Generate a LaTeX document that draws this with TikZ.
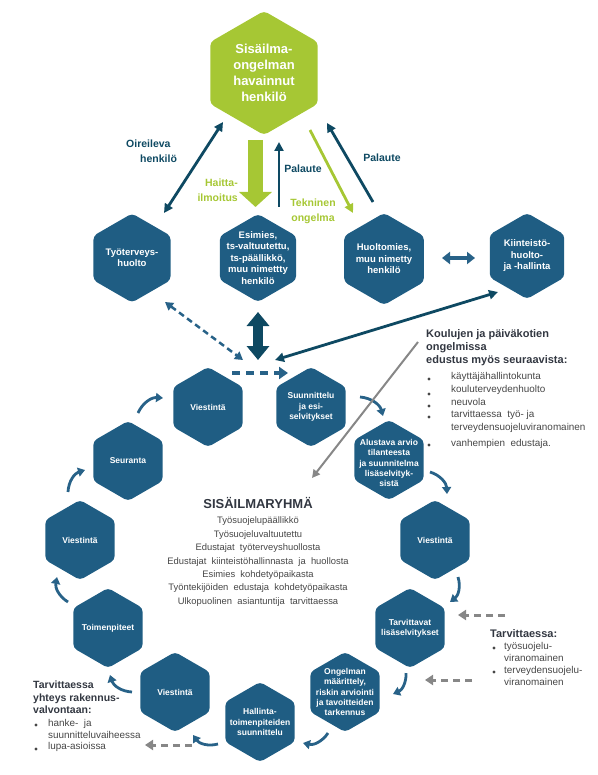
\documentclass[tikz,border=0pt]{standalone}
\usepackage{fontspec}
\setmainfont{Liberation Sans}
\usetikzlibrary{arrows.meta,shapes.geometric,calc}
\definecolor{hexblue}{RGB}{31,93,131}
\definecolor{lgreen}{RGB}{166,199,52}
\definecolor{dteal}{RGB}{14,73,98}
\definecolor{mblue}{RGB}{40,98,136}
\definecolor{agray}{RGB}{135,135,135}
\definecolor{tgray}{RGB}{70,70,70}
\definecolor{hgray}{RGB}{50,55,65}
\begin{document}
\begin{tikzpicture}[x=1pt,y=-1pt,
  hexa/.style={regular polygon, regular polygon sides=6, shape border rotate=30, fill=hexblue, rounded corners=4pt, inner sep=0pt, minimum size=#1},
  htext/.style={text=white, font=\bfseries\fontsize{8.5}{10.3}\selectfont, align=center, inner sep=0pt},
  ttext/.style={text=white, font=\bfseries\fontsize{9.5}{11.5}\selectfont, align=center, inner sep=0pt},
  lab/.style={font=\bfseries\fontsize{10.5}{15}\selectfont, inner sep=0pt},
  darr/.style={draw=dteal, line width=2.8pt, -{Triangle[length=9pt,width=9pt]}},
  dboth/.style={draw=dteal, line width=2.8pt, {Triangle[length=9pt,width=9pt]}-{Triangle[length=9pt,width=9pt]}},
  carr/.style={draw=mblue, line width=2.8pt, -{Triangle[length=7pt,width=9pt]}},
  garr/.style={draw=agray, line width=3pt, dash pattern=on 7pt off 5pt, -{Triangle[length=8pt,width=10pt]}},
  head/.style={font=\bfseries\fontsize{11}{13}\selectfont, text=hgray, align=left, inner sep=0pt},
  item/.style={font=\fontsize{9.9}{12}\selectfont, text=tgray, align=left, inner sep=0pt, anchor=west},
  bul/.style={circle, fill=tgray, minimum size=3.2pt, inner sep=0pt}
]
\useasboundingbox (0,0) rectangle (597,775);

% top hexagon
\node[hexa=124, fill=lgreen] (obs) at (264,73) {};
\node[text=white, font=\bfseries\fontsize{13}{16}\selectfont, align=center, inner sep=0pt] at (obs) {Sisäilma-\\ongelman\\havainnut\\henkilö};

% top row
\node[hexa=89] (tyo) at (132,258) {};
\node[ttext] at (tyo) {Työterveys-\\huolto};
\node[hexa=88] (esi) at (258,258) {};
\node[ttext] at (esi) {Esimies,\\ts-valtuutettu,\\ts-päällikkö,\\muu nimettty\\henkilö};
\node[hexa=92] (huo) at (384,259) {};
\node[ttext] at (huo) {Huoltomies,\\muu nimetty\\henkilö};
\node[hexa=86] (kii) at (527,256) {};
\node[ttext] at (kii) {Kiinteistö-\\huolto-\\ja -hallinta};

% cycle
\node[hexa=80] (v1) at (208,407) {};
\node[htext] at (v1) {Viestintä};
\node[hexa=80] (suu) at (311,407) {};
\node[htext] at (suu) {Suunnittelu\\ja esi-\\selvitykset};
\node[hexa=80] (alu) at (389,460) {};
\node[htext] at ($(alu)+(0,3)$) {Alustava arvio\\tilanteesta\\ja suunnitelma\\lisäselvityk-\\sistä};
\node[hexa=80] (v2) at (435,540) {};
\node[htext] at (v2) {Viestintä};
\node[hexa=80] (tar) at (410,628) {};
\node[htext] at (tar) {Tarvittavat\\lisäselvitykset};
\node[hexa=80] (ong) at (345,692) {};
\node[htext] at (ong) {Ongelman\\määrittely,\\riskin arviointi\\ja tavoitteiden\\tarkennus};
\node[hexa=80] (hal) at (260,722) {};
\node[htext] at (hal) {Hallinta-\\toimenpiteiden\\suunnittelu};
\node[hexa=80] (v3) at (175,692) {};
\node[htext] at (v3) {Viestintä};
\node[hexa=80] (toi) at (108,628) {};
\node[htext] at (toi) {Toimenpiteet};
\node[hexa=80] (v4) at (80,540) {};
\node[htext] at (v4) {Viestintä};
\node[hexa=80] (seu) at (128,461) {};
\node[htext] at (seu) {Seuranta};

\coordinate (hub) at (258,366);

% top arrows
\draw[dboth] ($(tyo)+(32,-45)$) -- ($(obs)+(-41,49)$);
\draw[draw=lgreen, line width=15pt, -{Triangle[length=15pt,width=32pt]}] ($(obs)+(-8.5,67)$) -- ($(esi)+(-2.5,-51)$);
\draw[darr] ($(esi)+(21,-51)$) -- ($(obs)+(15,69)$);
\draw[draw=lgreen, line width=2.8pt, -{Triangle[length=9pt,width=9pt]}] ($(obs)+(46,57)$) -- ($(huo)+(-31,-46)$);
\draw[darr] ($(huo)+(-11,-57)$) -- ($(obs)+(63,50)$);
\draw[draw=mblue, line width=4pt, {Triangle[length=8pt,width=12pt]}-{Triangle[length=8pt,width=12pt]}] ($(huo)+(58,-1)$) -- ($(kii)+(-52,2)$);

% labels
\node[lab, text=dteal, align=left, anchor=north west] at (126,140) {Oireileva\\\hspace*{14pt}henkilö};
\node[lab, text=lgreen, align=right, anchor=east] at (238,190) {Haitta-\\ilmoitus};
\node[lab, text=dteal] at (303,169) {Palaute};
\node[lab, text=lgreen, align=center] at (313,211) {Tekninen\\ongelma};
\node[lab, text=dteal] at (382,158) {Palaute};

% middle arrows
\draw[draw=dteal, line width=10pt, {Triangle[length=14pt,width=22pt]}-{Triangle[length=14pt,width=22pt]}] ($(esi)+(0,54)$) -- ($(hub)+(0,-6)$);
\draw[draw=mblue, line width=2.5pt, dash pattern=on 6pt off 4pt, {Triangle[length=8pt,width=9pt]}-{Triangle[length=8pt,width=9pt]}] ($(tyo)+(33,44)$) -- ($(hub)+(-15,-6)$);
\draw[dboth] ($(kii)+(-29,36)$) -- ($(hub)+(17,-6)$);
\draw[draw=mblue, line width=3.5pt, dash pattern=on 8pt off 6pt, -{Triangle[length=9pt,width=12pt]}] ($(v1)+(24,-34)$) -- ($(suu)+(-23,-34)$);

% cycle arrows
\draw[carr] ($(suu)+(49,-10)$) to[bend left=35] ($(alu)+(-6,-44)$);
\draw[carr] ($(alu)+(41,12)$) to[bend left=35] ($(v2)+(12,-46)$);
\draw[carr] ($(v2)+(23,37)$) to[bend left=35] ($(tar)+(40,-26)$);
\draw[carr] ($(tar)+(-4,45)$) to[bend left=35] ($(ong)+(48,2)$);
\draw[carr] ($(ong)+(-17,41)$) to[bend left=35] ($(hal)+(43,21)$);
\draw[carr] ($(hal)+(-42,22)$) to[bend left=35] ($(v3)+(18,43)$);
\draw[carr] ($(v3)+(-43,0)$) to[bend left=35] ($(toi)+(2,47)$);
\draw[carr] ($(toi)+(-40,-26)$) to[bend left=35] ($(v4)+(-23,37)$);
\draw[carr] ($(v4)+(-12,-48)$) to[bend left=35] ($(seu)+(-43,9)$);
\draw[carr] ($(seu)+(10,-48)$) to[bend left=35] ($(v1)+(-45,-9)$);

% Koulujen text
\node[head, anchor=north west] (koul) at (426,329) {Koulujen ja päiväkotien\\ongelmissa\\edustus myös seuraavista:};
\node[bul] at (429,379) {};
\node[item] at (451,377) {käyttäjähallintokunta};
\node[bul] at (429,394) {};
\node[item] at (451,390) {kouluterveydenhuolto};
\node[bul] at (429,406) {};
\node[item] at (451,402) {neuvola};
\node[bul] at (429,417) {};
\node[item] at (451,415) {tarvittaessa\ \ työ-\ ja};
\node[item] at (451,428) {terveydensuojeluviranomainen};
\node[bul] at (429,445) {};
\node[item] at (451,444) {vanhempien\ \ edustaja.};

\coordinate (gend) at (312,478);
\draw[draw=agray, line width=2pt, -{Triangle[length=8pt,width=8pt]}] ($(koul.north west)+(-8,13)$) -- (gend);

% SISAILMARYHMA
\node[font=\bfseries\fontsize{13}{15}\selectfont, text=hgray, inner sep=0pt] (sis) at (258,503) {SISÄILMARYHMÄ};
\node[font=\fontsize{9.4}{13.4}\selectfont, text=tgray, align=center, inner sep=0pt, anchor=north] at ($(sis.south)+(0,8)$) {Työsuojelupäällikkö\\Työsuojeluvaltuutettu\\Edustajat\ \ työterveyshuollosta\\Edustajat\ \ kiinteistöhallinnasta\ \ ja\ \ huollosta\\Esimies\ \ kohdetyöpaikasta\\Työntekijöiden\ \ edustaja\ \ kohdetyöpaikasta\\Ulkopuolinen\ \ asiantuntija\ \ tarvittaessa};

% Tarvittaessa right
\node[head, anchor=west] (tr) at (490,634) {Tarvittaessa:};
\node[bul] at (494,648) {};
\node[item] at (504,652) {työsuojelu-\\viranomainen};
\node[bul] at (494,672) {};
\node[item] at (504,676) {terveydensuojelu-\\viranomainen};
\coordinate (g2e) at (458,615);
\coordinate (g3e) at (425,680);
\draw[garr] ($(tar)+(95,-13)$) -- (g2e);
\draw[garr] ($(tar)+(62,52)$) -- (g3e);

% Tarvittaessa left
\node[head, anchor=west, font=\bfseries\fontsize{10.5}{12.5}\selectfont] (tl) at (33,697.5) {Tarvittaessa\\yhteys rakennus-\\valvontaan:};
\node[bul] at (36,725) {};
\node[item] at (48,729) {hanke-\ \ ja\\suunnitteluvaiheessa};
\node[bul] at (36,749) {};
\node[item] at (48,747) {lupa-asioissa};
\coordinate (g1e) at (145,745);
\draw[garr] ($(hal)+(-68,23)$) -- (g1e);
\end{tikzpicture}
\end{document}
